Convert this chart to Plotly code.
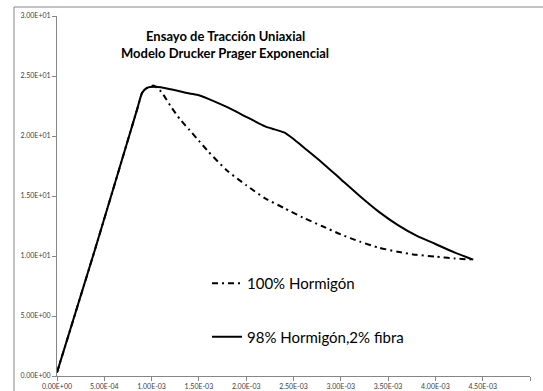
import plotly.graph_objects as go

# strain values (x) and stress values (y)
strain_hormigon = [0.0, 0.40e-3, 0.85e-3, 0.90e-3, 0.95e-3, 1.02e-3, 1.10e-3, 1.20e-3, 1.30e-3,
                   1.40e-3, 1.50e-3, 1.60e-3, 1.80e-3, 2.00e-3, 2.20e-3, 2.40e-3, 2.60e-3,
                   2.80e-3, 3.00e-3, 3.20e-3, 3.40e-3, 3.60e-3, 3.80e-3, 4.00e-3, 4.20e-3, 4.40e-3]
stress_hormigon = [0.3, 10.5, 22.3, 23.6, 24.0, 24.2, 23.7, 22.5, 21.4,
                   20.5, 19.6, 18.7, 17.1, 15.9, 14.8, 14.0, 13.2,
                   12.5, 11.8, 11.2, 10.7, 10.35, 10.1, 9.95, 9.8, 9.7]

strain_fibra = [0.0, 0.40e-3, 0.85e-3, 0.90e-3, 0.95e-3, 1.05e-3, 1.20e-3, 1.40e-3, 1.50e-3,
                1.60e-3, 1.80e-3, 2.00e-3, 2.20e-3, 2.30e-3, 2.40e-3, 2.50e-3, 2.60e-3,
                2.80e-3, 3.00e-3, 3.20e-3, 3.40e-3, 3.60e-3, 3.80e-3, 4.00e-3, 4.20e-3, 4.40e-3]
stress_fibra = [0.3, 10.5, 22.3, 23.6, 24.0, 24.1, 23.9, 23.55, 23.4,
                23.1, 22.4, 21.6, 20.8, 20.55, 20.3, 19.75, 19.1,
                17.8, 16.4, 15.0, 13.7, 12.6, 11.7, 11.0, 10.3, 9.7]

x_tickvals = [0.0, 0.5e-3, 1.0e-3, 1.5e-3, 2.0e-3, 2.5e-3, 3.0e-3, 3.5e-3, 4.0e-3, 4.5e-3, 5.0e-3]
x_ticktext = ["0.00E+00", "5.00E-04", "1.00E-03", "1.50E-03", "2.00E-03", "2.50E-03",
              "3.00E-03", "3.50E-03", "4.00E-03", "4.50E-03", "5.00E-03"]
y_tickvals = [0, 5, 10, 15, 20, 25, 30]
y_ticktext = ["0.00E+00", "5.00E+00", "1.00E+01", "1.50E+01", "2.00E+01", "2.50E+01", "3.00E+01"]

title_lines = ["Ensayo de Tracción Uniaxial", "Modelo Drucker Prager Exponencial"]
series_names = ["100% Hormigón", "98% Hormigón,2% fibra"]

L, R, T, B = 57, 13, 16, 15
W, H = 543, 391
PW, PH = W - L - R, H - T - B

fig = go.Figure()
fig.add_trace(go.Scatter(x=strain_hormigon, y=stress_hormigon, mode="lines", name=series_names[0],
                         legendgroup="a",
                         line=dict(color="black", width=2, dash="6px,4px,2px,4px", shape="spline", smoothing=0.6)))
fig.add_trace(go.Scatter(x=strain_fibra, y=stress_fibra, mode="lines", name=series_names[1],
                         legendgroup="b",
                         line=dict(color="black", width=2, shape="spline", smoothing=0.6)))

axis_common = dict(showgrid=False, zeroline=False, showline=True, linecolor="#868686", linewidth=1,
                   ticks="outside", ticklen=4, tickcolor="#868686", automargin=False,
                   tickfont=dict(family="Lato", size=7, color="#404040"))

ann = []
for i, t in enumerate(title_lines):
    px, py = 225, 36 + i * 17
    ann.append(dict(text="<b>" + t + "</b>", x=(px - L) / PW, y=(H - B - py) / PH,
                    xref="paper", yref="paper", showarrow=False, xanchor="center", yanchor="middle",
                    font=dict(family="Lato", size=13, color="black")))

fig.update_layout(
    width=W, height=H,
    margin=dict(l=L, r=R, t=T, b=B),
    paper_bgcolor="white", plot_bgcolor="white",
    showlegend=True,
    legend=dict(x=(207 - L) / PW, y=(H - B - 267) / PH, xanchor="left", yanchor="top",
                bgcolor="rgba(0,0,0,0)",
                font=dict(family="Lato", size=15, color="black"), tracegroupgap=31),
    xaxis=dict(range=[0, 5.0e-3], tickvals=x_tickvals, ticktext=x_ticktext, **axis_common),
    yaxis=dict(range=[0, 30], tickvals=y_tickvals, ticktext=y_ticktext, **axis_common),
    annotations=ann,
)

# chart-area border
fig.add_shape(type="rect", xref="paper", yref="paper",
              x0=(14 - L) / PW, x1=1.2, y0=-0.2, y1=(H - B - 7) / PH,
              line=dict(color="#868686", width=1), layer="below")

fig.write_html("out.html", config={"displayModeBar": False},
               post_script="document.body.style.margin='0px';")
